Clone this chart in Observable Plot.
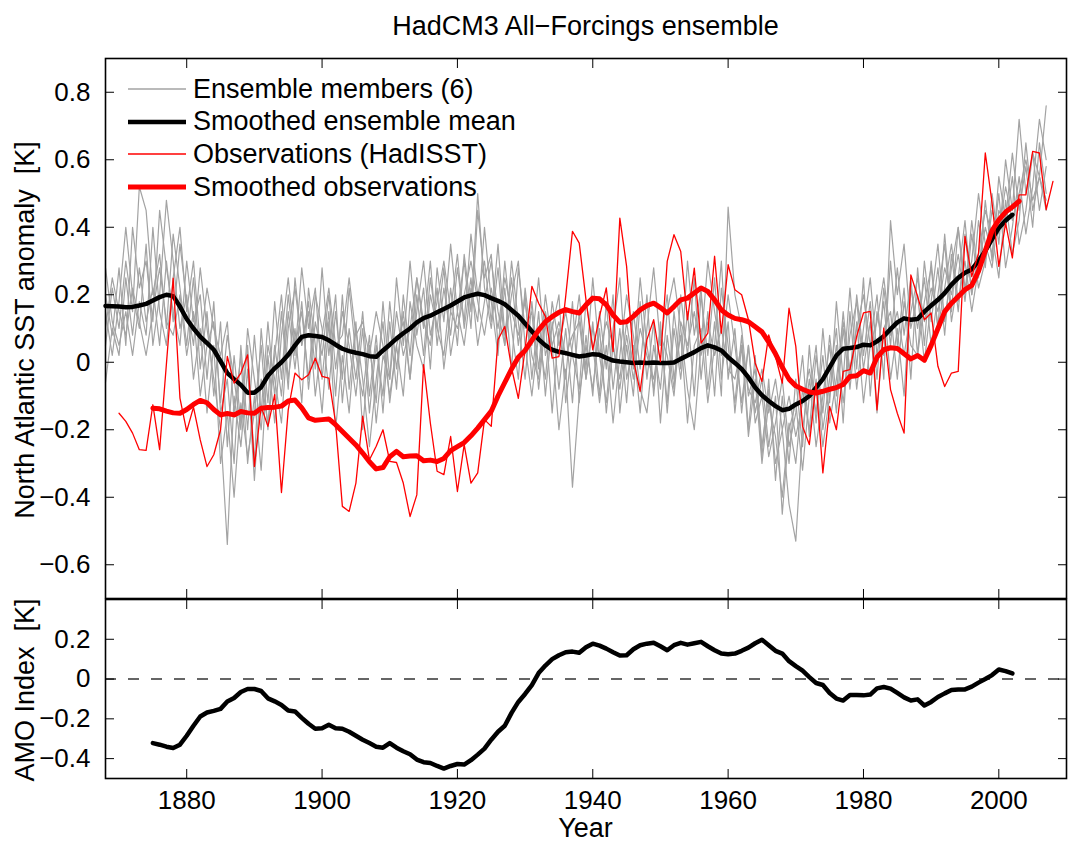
<!DOCTYPE html>
<html><head><meta charset="utf-8">
<script src="https://cdn.jsdelivr.net/npm/d3@7"></script>
<script src="https://cdn.jsdelivr.net/npm/@observablehq/plot@0.6"></script>
<style>
body{margin:0;background:#fff;font-family:"Liberation Sans",Arial,Helvetica,sans-serif;}
#wrap{position:relative;width:1081px;height:850px;overflow:hidden;background:#fff;}
.lab{position:absolute;font-size:27px;color:#000;white-space:pre;}
.legrow{position:absolute;height:30px;display:flex;align-items:center;font-size:27px;white-space:pre;}
</style></head>
<body><div id="wrap"></div>
<script>
// ---------------- DATA ----------------
const memberStart = 1868;
const member1 = [.05,.22,.10,.30,.15,.52,.45,.20,.32,.10, .38,.22,.05,.25,-.02,.15,-.10,.12,-.25,.02, -.18,.05,-.30,.10,-.12,.18,-.05,.20,.02,.28, .10,.22,-.05,.15,-.10,.20,-.08,.12,-.20,.05, -.12,.18,-.05,.25,.05,.30,.08,.22,-.02,.28, .12,.35,.15,.30,.10,.45,.25,.32,.05,.22, -.02,.28,.10,.15,-.08,.12,-.15,.10,-.05,.18, -.12,.08,-.10,.15,-.02,.20,-.15,.05,-.10,.18, -.05,.12,-.18,.08,-.08,.20,.02,.25,-.05,.15, -.10,.22,.05,-.12,.08,-.20,.02,-.28,-.05,-.35, -.10,-.30,-.05,-.25,.05,-.18,.10,-.12,.18,-.05, .22,-.02,.25,-.10,.15,.02,.30,.05,.22,-.05, .28,.05,.30,.10,.38,.15,.40,.20,.42,.25, .48,.30,.55,.42,.62,.45,.58,.40,.65,.50];
const member2 = [.20,.08,.28,.05,.40,.22,.30,.12,.45,.28, .15,.05,.30,.12,.20,-.05,.18,-.15,-.05,-.30, .05,-.20,.08,-.15,.12,-.10,.15,-.08,.25,.05, .18,-.02,.28,.02,.20,-.12,.10,-.05,.15,-.10, .08,-.15,.12,-.08,.20,.02,.25,.10,.30,.05, .22,.08,.28,.12,.38,.20,.30,.12,.35,.08, .25,.05,.20,-.05,.15,-.10,.12,-.08,.10,-.12, .15,-.05,.12,-.10,.18,-.08,.10,-.12,.15,-.02, .20,-.10,.12,-.15,.10,-.05,.15,-.10,.20,.02, .25,-.05,.12,-.15,.05,-.22,-.05,-.30,-.12,-.22, -.40,-.18,-.30,-.08,-.20,.02,-.15,.08,-.10,.15, -.05,.20,.02,.18,-.05,.22,.05,.28,.08,.25, .02,.30,.12,.28,.08,.32,.15,.38,.20,.42, .28,.50,.35,.60,.45,.72,.50,.62,.45,.58];
const member3 = [-.06,.10,.02,.25,.08,.28,.12,.22,.05,.30, .12,.35,.18,.05,.28,.10,-.05,-.20,-.54,-.10, -.25,-.02,-.35,-.05,-.18,.05,-.10,.15,-.02,.18, -.08,.12,.02,.20,-.02,.15,.05,-.10,.10,-.15, .05,-.10,.18,-.02,.15,-.05,.20,.02,.25,.10, .02,.22,.05,.32,.15,.50,.22,.10,.28,.05, .30,.12,-.05,.18,-.02,.20,.05,-.20,-.02,-.37, -.10,.05,-.08,.10,-.15,.05,-.05,.12,-.02,.25, .05,-.08,.10,-.12,.15,-.02,.30,.08,.22,-.08, .12,-.10,.46,.20,.10,-.10,-.02,-.25,-.08,-.30, -.20,-.42,-.53,-.20,-.05,-.25,-.10,.05,-.15,.10, -.08,.12,-.12,.05,.20,-.05,.42,.20,.35,.10, .20,.00,.18,.35,.12,.28,.40,.22,.30,.50, .35,.28,.45,.40,.55,.35,.45,.62,.55,.76];
const member4 = [.15,.02,.18,.40,.20,.10,.35,.05,.20,.48, .30,.10,.20,-.05,.10,-.15,.05,-.30,-.15,-.40, -.12,-.28,-.15,.05,-.20,.02,.20,-.05,.10,-.12, .22,.05,-.15,.12,-.20,.02,-.15,.10,-.05,-.25, -.05,.12,-.12,.05,-.10,.18,.05,-.02,.20,.10, .28,.02,.15,.05,.22,.12,.40,.18,.02,.30, .10,-.05,.22,.05,.25,.02,.10,.20,-.12,.05, .20,-.02,.25,.02,-.12,.10,.25,-.05,.05,-.15, .10,.28,.05,.20,-.05,.08,-.18,.05,.10,-.12, .05,.30,-.05,.10,-.15,.05,-.15,-.05,-.25,-.10, -.45,-.20,-.12,-.32,-.10,.05,-.20,-.05,.10,-.18, .15,-.08,.10,.25,.02,.18,-.05,.10,-.10,.22, .10,.25,.05,.20,.35,.12,.25,.42,.20,.32, .45,.38,.25,.48,.32,.42,.65,.45,.55,.48];
const member5 = [.28,.12,.05,.15,.02,.18,.08,.40,.15,.05, .25,.40,.15,.30,.05,.22,.10,.02,.12,-.15, .02,-.30,-.10,-.32,.02,-.18,.08,.25,.05,.15, -.05,.20,.10,-.08,.15,-.05,.22,.02,-.10,.08, -.18,.02,-.05,.15,.02,.10,.25,.12,.05,.22, -.02,.15,.32,.10,.25,.05,.18,.30,.15,.05, .20,.30,.05,-.10,.08,-.05,.18,.05,.15,.02, -.08,.18,.05,-.12,.05,-.18,.02,.20,.08,-.08, -.15,.05,-.08,.15,.25,.10,-.08,-.20,.05,.30, .15,.02,.20,.05,-.12,.05,-.18,-.10,-.28,-.18, -.05,-.25,-.15,.02,-.22,-.05,-.25,-.10,.05,-.12, .08,.18,-.02,.12,-.15,.10,.15,-.05,.18,.05, .02,.18,.28,.10,.22,.35,.18,.30,.15,.28, .40,.32,.50,.28,.40,.55,.38,.52,.72,.60];
const member6 = [.10,.25,.15,.08,.22,.12,.02,.15,.28,.12, .08,.20,.02,.15,-.10,.05,.12,-.12,.08,-.05, -.20,.10,-.05,-.20,.05,-.05,-.18,.10,.22,.05, .15,-.10,.08,.22,.05,.08,.25,.08,.12,.02, .15,.05,-.10,.05,.12,-.05,.15,.30,.08,.18, .30,.15,.10,.20,.30,.18,.08,.22,.10,.25, .15,.08,.18,.02,-.05,.15,.05,.12,.02,.08, .12,-.05,.10,.02,.12,.05,-.08,.08,-.05,.10, .02,-.05,.08,.02,-.10,.12,.05,.15,.02,.12, .02,.10,-.02,-.05,.05,-.08,-.12,-.02,-.15,-.05, -.20,-.10,-.22,-.12,-.02,-.15,.02,-.18,-.05,.12, -.02,.10,.20,.05,.12,.25,.08,.15,.02,.15, .25,.12,.22,.15,.28,.20,.32,.18,.38,.22, .30,.45,.38,.52,.42,.50,.60,.48,.55,.45];

const meanStart = 1868;
const ensembleMean = [0.167,0.166,0.165,0.163,0.164,0.168,0.173,0.183,0.193,0.200, 0.196,0.165,0.128,0.100,0.076,0.057,0.037,0.003,-0.032,-0.050, -0.067,-0.090,-0.090,-0.074,-0.040,-0.018,0.000,0.022,0.050,0.075, 0.080,0.078,0.075,0.065,0.052,0.040,0.033,0.028,0.024,0.018, 0.016,0.035,0.052,0.070,0.086,0.100,0.118,0.131,0.138,0.148, 0.158,0.168,0.180,0.192,0.198,0.203,0.199,0.190,0.182,0.172, 0.155,0.138,0.115,0.092,0.068,0.050,0.037,0.031,0.027,0.022, 0.017,0.020,0.024,0.022,0.013,0.005,0.002,0.000,-0.002,-0.001, -0.002,-0.001,-0.002,-0.002,-0.001,0.010,0.020,0.030,0.042,0.050, 0.044,0.035,0.015,-0.002,-0.020,-0.045,-0.075,-0.098,-0.115,-0.130, -0.142,-0.138,-0.125,-0.115,-0.100,-0.075,-0.050,-0.015,0.020,0.040, 0.042,0.045,0.052,0.050,0.062,0.077,0.098,0.118,0.130,0.126, 0.128,0.150,0.168,0.185,0.205,0.230,0.250,0.265,0.275,0.300, 0.330,0.365,0.398,0.420,0.437];

const obsStart = 1870;
const observations = [-0.151,-0.175,-0.210,-0.259,-0.261,-0.126,-0.259,-0.005,0.249,-0.106, -0.205,-0.133,-0.230,-0.309,-0.274,-0.200,0.017,-0.062,-0.032,0.022, -0.309,-0.131,-0.190,-0.096,-0.386,-0.141,-0.032,-0.052,-0.037,0.012, -0.042,-0.047,-0.180,-0.427,-0.442,-0.358,-0.160,-0.289,-0.249,-0.200, -0.294,-0.297,-0.358,-0.457,-0.393,-0.007,-0.180,-0.323,-0.333,-0.220, -0.383,-0.244,-0.358,-0.328,-0.170,-0.190,0.067,0.106,-0.017,-0.107, 0.037,0.225,0.175,0.136,0.012,0.017,0.195,0.388,0.353,0.185, 0.037,0.136,0.220,0.032,0.427,0.284,0.007,-0.086,0.067,0.126, 0.002,0.299,0.378,0.328,0.126,0.279,0.057,0.086,0.314,0.086, 0.289,0.215,0.200,0.126,-0.002,-0.057,0.081,0.017,-0.062,0.160, 0.047,-0.190,-0.244,-0.062,-0.328,-0.131,-0.200,-0.027,-0.022,0.077, 0.146,0.151,-0.141,0.101,-0.081,-0.151,-0.210,0.259,0.195,0.126, 0.146,-0.012,-0.072,-0.032,-0.027,0.373,0.254,0.323,0.620,0.472, 0.284,0.412,0.309,0.496,0.496,0.625,0.620,0.452,0.536];

const smoothObsStart = 1875;
const smoothedObs = [-0.136,-0.138,-0.145,-0.150,-0.151, -0.140,-0.125,-0.113,-0.120,-0.140,-0.156,-0.152,-0.156,-0.146,-0.150, -0.151,-0.136,-0.134,-0.133,-0.130,-0.115,-0.112,-0.135,-0.165,-0.172, -0.170,-0.168,-0.185,-0.205,-0.225,-0.245,-0.269,-0.295,-0.316,-0.312, -0.280,-0.264,-0.280,-0.278,-0.277,-0.292,-0.290,-0.294,-0.285,-0.262, -0.250,-0.238,-0.218,-0.195,-0.170,-0.145,-0.100,-0.060,-0.020,0.015, 0.035,0.065,0.095,0.120,0.135,0.148,0.156,0.150,0.146,0.170, 0.190,0.188,0.170,0.140,0.118,0.120,0.136,0.155,0.168,0.175, 0.162,0.146,0.165,0.185,0.190,0.205,0.220,0.210,0.185,0.155, 0.140,0.130,0.126,0.120,0.105,0.090,0.060,0.025,-0.015,-0.050, -0.070,-0.080,-0.088,-0.091,-0.086,-0.080,-0.075,-0.066,-0.042,-0.040, -0.025,-0.032,0.015,0.037,0.043,0.041,0.025,0.010,0.020,0.006, 0.050,0.100,0.150,0.175,0.195,0.215,0.228,0.270,0.330,0.390, 0.422,0.445,0.460,0.477];

const amoStart = 1875;
const amoIndex = [-0.322,-0.330,-0.340,-0.347,-0.330, -0.285,-0.235,-0.188,-0.168,-0.160,-0.150,-0.113,-0.095,-0.065,-0.050, -0.050,-0.060,-0.097,-0.112,-0.130,-0.158,-0.163,-0.195,-0.225,-0.250, -0.247,-0.230,-0.247,-0.250,-0.265,-0.285,-0.305,-0.322,-0.340,-0.345, -0.322,-0.345,-0.363,-0.378,-0.405,-0.418,-0.422,-0.437,-0.450,-0.437, -0.427,-0.430,-0.408,-0.380,-0.350,-0.305,-0.265,-0.235,-0.170,-0.115, -0.075,-0.030,0.030,0.068,0.100,0.120,0.135,0.138,0.132,0.160, 0.178,0.168,0.153,0.135,0.118,0.120,0.150,0.170,0.178,0.183, 0.165,0.145,0.170,0.182,0.173,0.180,0.187,0.165,0.145,0.128, 0.125,0.128,0.142,0.158,0.180,0.198,0.170,0.142,0.128,0.090, 0.065,0.042,0.010,-0.020,-0.030,-0.070,-0.098,-0.108,-0.080,-0.080, -0.082,-0.078,-0.047,-0.040,-0.048,-0.070,-0.092,-0.108,-0.102,-0.133, -0.115,-0.090,-0.072,-0.055,-0.052,-0.052,-0.038,-0.018,0.000,0.020, 0.048,0.040,0.028];

const xTicks = [1880, 1900, 1920, 1940, 1960, 1980, 2000];
const yTicksTop = [-0.6, -0.4, -0.2, 0, 0.2, 0.4, 0.6, 0.8];
const yTicksBottom = [-0.4, -0.2, 0, 0.2];
const titleText = "HadCM3 All\u2212Forcings ensemble";
const legendLabels = ["Ensemble members (6)", "Smoothed ensemble mean", "Observations (HadISST)", "Smoothed observations"];
const yLabelTop = "North Atlantic SST anomaly  [K]";
const yLabelBottom = "AMO Index  [K]";
const xLabel = "Year";

// ---------------- BUILD ----------------
const toRows = (arr, start, extra = {}) => arr.map((v, i) => ({year: start + i, value: v, ...extra}));
const members = [member1, member2, member3, member4, member5, member6]
  .flatMap((arr, k) => toRows(arr, memberStart, {member: k + 1}));
const meanRows = toRows(ensembleMean, meanStart);
const obsRows = toRows(observations, obsStart);
const sObsRows = toRows(smoothedObs, smoothObsStart);
const amoRows = toRows(amoIndex, amoStart);

const fmt = d => d === 0 ? "0" : (d < 0 ? "\u2212" : "") + Math.abs(d).toFixed(1);
const blank = () => "";
const FONT = '"Liberation Sans", Arial, Helvetica, sans-serif';
const GREY = "#a3a3a3";
const xDomain = [1868, 2010];

function axes(yTicks) {
  return [
    Plot.frame({stroke: "#000", strokeWidth: 1.6}),
    Plot.axisY({ticks: yTicks, anchor: "left", tickSize: -9, tickPadding: 24, tickFormat: fmt, label: null}),
    Plot.axisY({ticks: yTicks, anchor: "right", tickSize: -9, tickFormat: blank, label: null}),
    Plot.axisX({ticks: xTicks, anchor: "top", tickSize: -9, tickFormat: blank, label: null})
  ];
}

const topPlot = Plot.plot({
  width: 1081, height: 599,
  marginTop: 58, marginBottom: 1, marginLeft: 105, marginRight: 15,
  x: {domain: xDomain},
  y: {domain: [-0.7, 0.9]},
  style: {fontFamily: FONT, fontSize: "26px", background: "transparent", color: "#000"},
  marks: [
    Plot.lineY(members, {x: "year", y: "value", z: "member", stroke: GREY, strokeWidth: 1.2}),
    Plot.lineY(meanRows, {x: "year", y: "value", stroke: "#000", strokeWidth: 4.5}),
    Plot.lineY(obsRows, {x: "year", y: "value", stroke: "#ff0000", strokeWidth: 1.3}),
    Plot.lineY(sObsRows, {x: "year", y: "value", stroke: "#ff0000", strokeWidth: 5}),
    ...axes(yTicksTop),
    Plot.axisX({ticks: xTicks, anchor: "bottom", tickSize: -9, tickFormat: blank, label: null})
  ]
});

const bottomPlot = Plot.plot({
  width: 1081, height: 252,
  marginTop: 1, marginBottom: 72, marginLeft: 105, marginRight: 15,
  x: {domain: xDomain},
  y: {domain: [-0.5, 0.4]},
  style: {fontFamily: FONT, fontSize: "26px", background: "transparent", color: "#000"},
  marks: [
    Plot.ruleY([0], {stroke: "#333", strokeWidth: 1.4, strokeDasharray: "11,12"}),
    Plot.lineY(amoRows, {x: "year", y: "value", stroke: "#000", strokeWidth: 4.5}),
    ...axes(yTicksBottom),
    Plot.axisX({ticks: xTicks, anchor: "bottom", tickSize: -9, tickPadding: 21, tickFormat: d => String(d), label: null})
  ]
});

const wrap = document.getElementById("wrap");
function place(el, left, top) {
  el.style.position = "absolute"; el.style.left = left + "px"; el.style.top = top + "px";
  wrap.appendChild(el); return el;
}
place(topPlot, 0, 0);
place(bottomPlot, 0, 598);

// title
const t = document.createElement("div");
t.className = "lab"; t.textContent = titleText;
t.style.left = "0px"; t.style.width = "1171px"; t.style.textAlign = "center"; t.style.top = "11px";
wrap.appendChild(t);

// x label
const xl = document.createElement("div");
xl.className = "lab"; xl.textContent = xLabel;
xl.style.left = "0px"; xl.style.width = "1171px"; xl.style.textAlign = "center";
xl.style.lineHeight = "0.8"; xl.style.top = "818px";
wrap.appendChild(xl);

// rotated y labels
function yLabel(text, cy) {
  const d = document.createElement("div");
  d.className = "lab"; d.textContent = text;
  d.style.left = "25px"; d.style.top = cy + "px";
  d.style.transform = "translate(-50%,-50%) rotate(-90deg)";
  wrap.appendChild(d);
}
yLabel(yLabelTop, 330);
yLabel(yLabelBottom, 690);

// legend
const legStyles = [
  {stroke: GREY, w: 1.3}, {stroke: "#000", w: 4.5}, {stroke: "#ff0000", w: 1.3}, {stroke: "#ff0000", w: 5}
];
const rowCenters = [89, 121.7, 154.3, 187];
legendLabels.forEach((lab, i) => {
  const row = document.createElement("div");
  row.className = "legrow";
  row.style.left = "127px"; row.style.top = (rowCenters[i] - 15) + "px";
  row.innerHTML = `<svg width="60" height="30" style="margin-right:6px"><line x1="1" x2="59" y1="15" y2="15" stroke="${legStyles[i].stroke}" stroke-width="${legStyles[i].w}"/></svg><span>${lab}</span>`;
  wrap.appendChild(row);
});
</script>
</body></html>
